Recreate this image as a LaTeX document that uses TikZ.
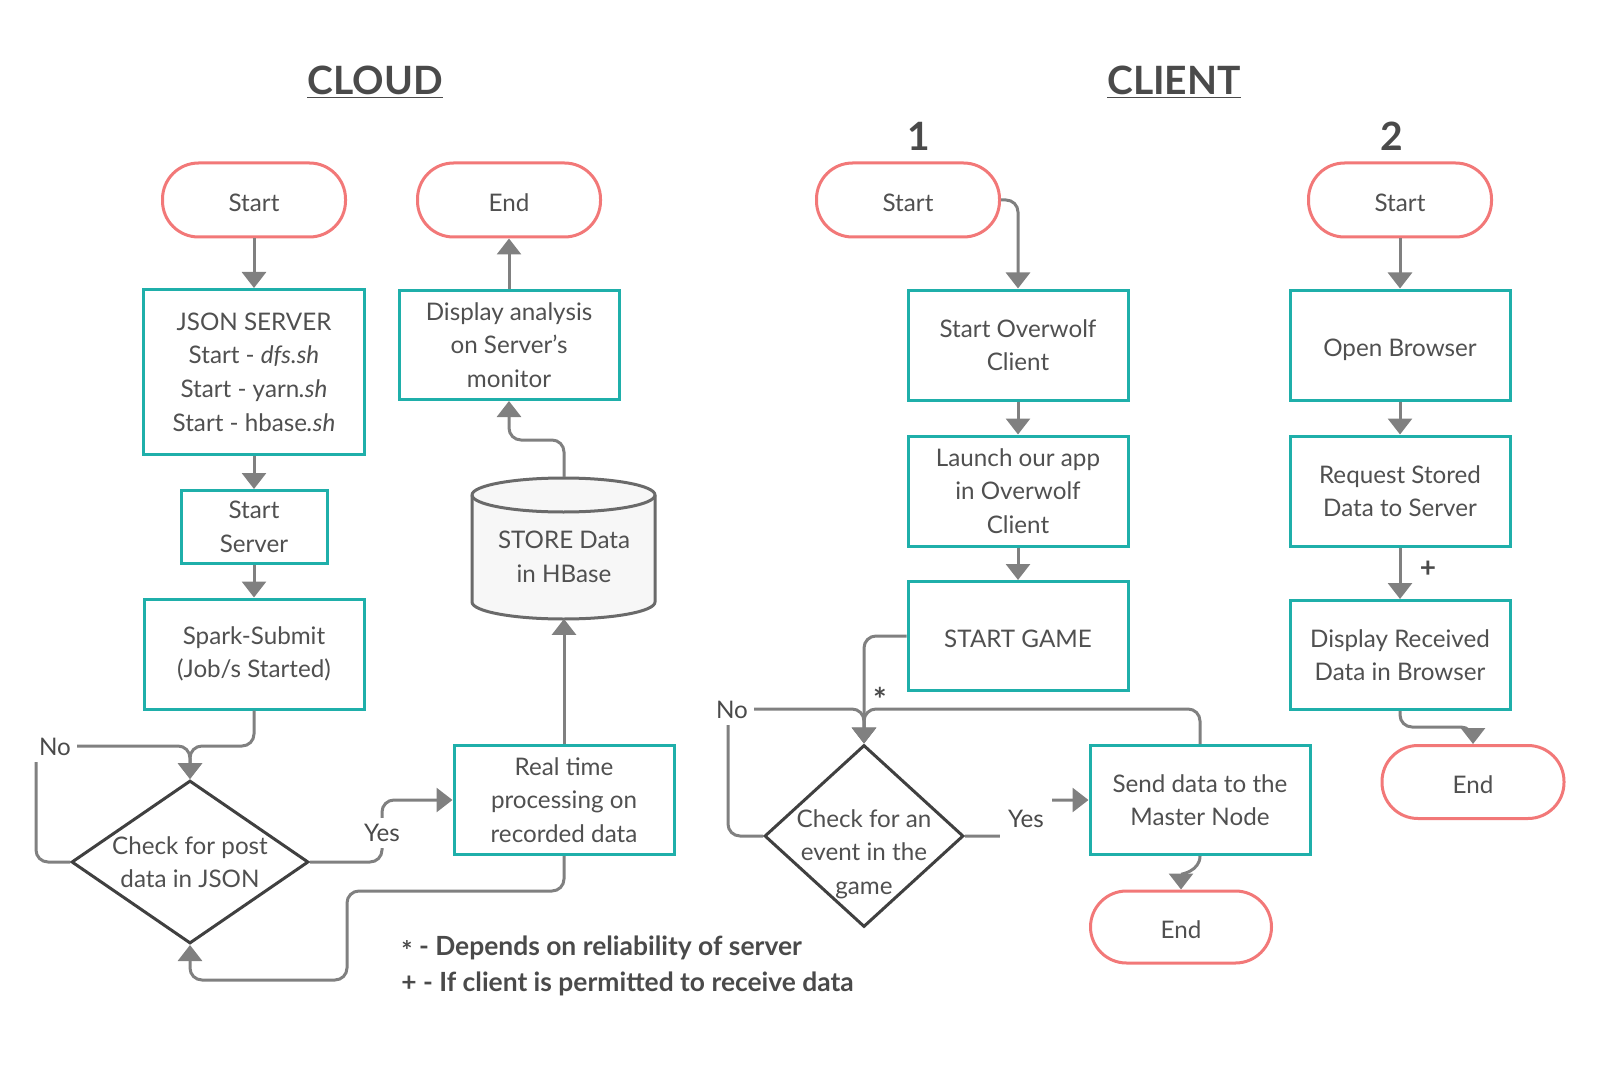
\documentclass[tikz,border=0pt]{standalone}
\usepackage{fontspec}
\setmainfont{Lato}
\usepackage{tikz}
\usetikzlibrary{shapes, arrows.meta, positioning}

\definecolor{termred}{HTML}{F27878}
\definecolor{procteal}{HTML}{1FAFAA}
\definecolor{flowgray}{HTML}{808080}
\definecolor{decgray}{HTML}{404040}
\definecolor{txtgray}{HTML}{505050}
\definecolor{headgray}{HTML}{4A4A4A}
\definecolor{cylfill}{HTML}{F7F7F7}
\definecolor{cyldraw}{HTML}{6A6A6A}

\begin{document}
\begin{tikzpicture}[
        x=0.5pt, y=-0.5pt,
        every node/.style={font=\fontsize{12.1pt}{16.8pt}\selectfont, text=txtgray},
        single/.style={text height=11.5pt, text depth=0pt},
        term/.style={rectangle, rounded corners=18pt, draw=termred, line width=1.5pt, fill=white, minimum width=91.5pt, minimum height=37pt, inner sep=2pt, single},
        proc/.style={rectangle, draw=procteal, line width=1.5pt, fill=white, align=center, inner sep=2pt, minimum width=110pt, minimum height=54.5pt},
        dec/.style={diamond, draw=decgray, line width=1.5pt, fill=white, align=center, inner sep=-6pt},
        flow/.style={draw=flowgray, line width=1.5pt, rounded corners=6pt, -{Triangle[width=12pt,length=8pt]}},
        lbl/.style={fill=white, inner sep=3pt, text=headgray},
        sym/.style={text=headgray, font=\fontsize{14pt}{16pt}\selectfont\bfseries},
        head/.style={text=headgray, font=\fontsize{19.5pt}{24pt}\selectfont\bfseries},
        note/.style={text=headgray, anchor=west, inner sep=0pt, font=\fontsize{13.2pt}{16pt}\selectfont\bfseries}
    ]
        \useasboundingbox (0,0) rectangle (1600,1091);

        % Titles
        \node[head] (cloud) at (375,82) {\underline{CLOUD}};
        \node[head] (client) at (1174,82) {\underline{CLIENT}};
        \node[head] (one) at (919,136) {1};
        \node[head] (two) at (1392,136) {2};

        % Cloud
        \node[term] (startA) at (254,200) {Start};
        \node[proc, minimum width=110.5pt, minimum height=82.5pt] (json) at (254,372) {JSON SERVER\\Start - \textit{dfs.sh}\\Start - yarn\textit{.sh}\\Start - hbase\textit{.sh}};
        \node[proc, minimum width=73pt, minimum height=36.5pt] (server) at (254,527) {Start\\Server};
        \node[proc, minimum height=55pt] (spark) at (254,654) {Spark-Submit\\(Job/s Started)};
        \node[dec, minimum width=118.5pt, minimum height=81.5pt] (check1) at (190,862) {Check for post\\data in JSON};
        \node[proc] (rt) at (564,800) {Real time\\processing on\\recorded data};
        \draw[line width=1.5pt, draw=cyldraw, fill=cylfill] (472,495) -- (472,602)
            arc[start angle=180, end angle=360, x radius=45.75pt, y radius=8.5pt] -- (655,495)
            arc[start angle=0, end angle=180, x radius=45.75pt, y radius=8.5pt] -- cycle;
        \draw[line width=1.5pt, draw=cyldraw] (472,495) arc[start angle=180, end angle=360, x radius=45.75pt, y radius=8.5pt];
        \node[minimum width=91.5pt, minimum height=70.5pt, label={[align=center, yshift=-4.5pt]center:STORE Data\\in HBase}] (hbase) at (564,548) {};
        \node[proc] (disp) at (509,345) {Display analysis\\on Server{\char"27}s\\monitor};
        \node[term] (endA) at (509,200) {End};

        \coordinate (jA) at (190,746);
        \coordinate (noA) at (36,746);
        \coordinate (yesA) at (382,862);
        \coordinate (backA1) at (347,891);
        \coordinate (backA2) at (347,980);
        \coordinate (upA) at (509,440);

        \draw[flow] (startA) -- (json);
        \draw[flow] (json) -- (server);
        \draw[flow] (server) -- (spark);
        \draw[flow] (spark.south) |- (jA) -- (check1.north);
        \draw[flow] (check1.west) -| (noA) -- (jA) -- (check1.north);
        \draw[flow] (check1.east) -- (yesA) |- (rt.west);
        \draw[flow] (rt.south) |- (backA1) -- (backA2) -| (check1.south);
        \draw[flow] (rt.north) -- (hbase.south);
        \draw[flow] (hbase.north) |- (upA) -- (disp.south);
        \draw[flow] (disp) -- (endA);
        \node[lbl] (noAlbl) at (55,747) {No};
        \node[lbl] (yesAlbl) at (382,833) {Yes};

        % Client 1
        \node[term] (startB) at (908,200) {Start};
        \node[proc, minimum height=55pt] (overwolf) at (1018,345) {Start Overwolf\\Client};
        \node[proc, minimum height=55pt] (launch) at (1018,491) {Launch our app\\in Overwolf\\Client};
        \node[proc, single] (game) at (1018,636) {START GAME};
        \node[dec, inner sep=0pt, minimum width=99.5pt, minimum height=91pt, label={[align=center, yshift=-9pt]center:Check for an\\event in the\\game}] (check2) at (864,836) {};
        \node[proc] (send) at (1200,800) {Send data to the\\Master Node};
        \node[term, minimum width=90.5pt, minimum height=36pt] (endB) at (1181,927) {End};

        \coordinate (jB) at (864,709);
        \coordinate (noB) at (728,709);
        \coordinate (yesB) at (1026,836);

        \draw[flow] (startB.east) -| (overwolf.north);
        \draw[flow] (overwolf) -- (launch);
        \draw[flow] (launch) -- (game);
        \draw[flow] (game.west) -| (check2.north);
        \draw[flow] (check2.west) -| (noB) -- (jB) -- (check2.north);
        \draw[flow] (send.north) |- (jB) -- (check2.north);
        \draw[flow] (check2.east) -- (yesB) |- (send.west);
        \draw[flow] (send.south) to[out=-90, in=90] (endB.north);
        \node[lbl] (noBlbl) at (732,710) {No};
        \node[lbl, inner xsep=4pt, inner ysep=6pt] (yesBlbl) at (1026,819) {Yes};
        \node[sym, font=\fontsize{16pt}{18pt}\selectfont\bfseries] (starB) at (880,699) {*};

        % Client 2
        \node[term] (startC) at (1400,200) {Start};
        \node[proc, single, minimum height=55pt] (browser) at (1400,345) {Open Browser};
        \node[proc, minimum height=55pt] (request) at (1400,491) {Request Stored\\Data to Server};
        \node[proc] (dispC) at (1400,655) {Display Received\\Data in Browser};
        \node[term, minimum width=91pt, minimum height=36.5pt] (endC) at (1473,782) {End};

        \coordinate (jC) at (1473,727);

        \draw[flow] (startC) -- (browser);
        \draw[flow] (browser) -- (request);
        \draw[flow] (request) -- (dispC);
        \draw[flow] (dispC.south) |- (jC) -- (endC.north);
        \node[sym] (plusC) at (1428,569) {+};

        % Notes
        \node[note] (note1) at (401,948) {\raisebox{-2.5pt}{*} - Depends on reliability of server};
        \node[note] (note2) at (401,984) {+ - If client is permitted to receive data};
    \end{tikzpicture}
\end{document}
